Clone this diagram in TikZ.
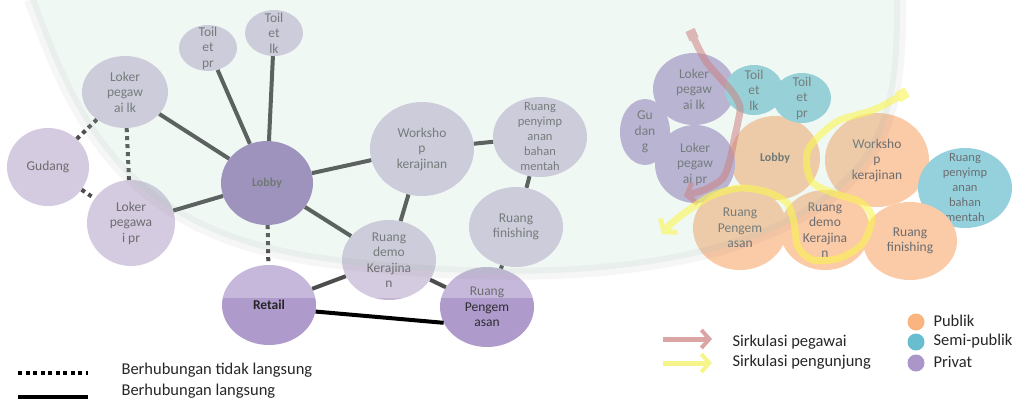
\documentclass[tikz,border=0pt]{standalone}
\usepackage{fontspec}
\setmainfont{Carlito}
\usetikzlibrary{shapes.geometric,arrows.meta}

\definecolor{priv}{RGB}{196,181,211}
\definecolor{privlobby}{RGB}{114,84,161}
\definecolor{privmid}{RGB}{174,154,203}
\definecolor{privR}{RGB}{160,140,198}
\definecolor{publik}{RGB}{250,180,128}
\definecolor{semipublik}{RGB}{104,190,206}
\definecolor{txt}{RGB}{45,45,50}
\definecolor{mint}{RGB}{165,212,190}
\definecolor{pegawai}{RGB}{205,130,130}
\definecolor{pengunjung}{RGB}{250,245,80}
\definecolor{keypeg}{RGB}{220,165,165}
\definecolor{keypeng}{RGB}{245,245,140}
\definecolor{keypriv}{RGB}{170,150,200}

\tikzset{
  room/.style={ellipse,inner sep=0pt},
  tag/.style={align=center,text=txt,font=\fontsize{13.5}{15.5}\selectfont},
  tagb/.style={align=center,text=black!85,font=\fontsize{12}{14}\selectfont\bfseries},
  link/.style={line width=4pt},
  hint/.style={line width=4pt,dash pattern=on 4pt off 4pt},
  flow/.style={line width=7pt,line join=round},
  key/.style={anchor=west,text=black!85,font=\fontsize{16.5}{19}\selectfont},
  dot/.style={circle,inner sep=0pt,minimum size=17pt}
}

\begin{document}
\begin{tikzpicture}[x=1pt,y=-1pt]
\useasboundingbox (0,0) rectangle (1024,405);

% left bubble diagram
\node[room,fill=priv,minimum width=58pt,minimum height=46pt,label={[tag]center:{Toil\\et\\pr}}] (toiletpr) at (208,48) {};
\node[room,fill=priv,minimum width=58pt,minimum height=46pt,label={[tag]center:{Toil\\et\\lk}}] (toiletlk) at (274,33) {};
\node[room,fill=priv,minimum width=86pt,minimum height=72pt,label={[tag]center:{Loker\\pegaw\\ai lk}}] (lokerlk) at (125,92) {};
\node[room,fill=priv,minimum width=82pt,minimum height=78pt,label={[tag]center:{Gudang}}] (gudang) at (48,167) {};
\node[room,fill=priv,minimum width=88pt,minimum height=86pt,label={[tag]center:{Loker\\pegawa\\i pr}}] (lokerpr) at (131,223) {};
\node[room,fill=privlobby,minimum width=92pt,minimum height=84pt,label={[tagb]center:{Lobby}}] (lobby) at (267,183) {};
\node[room,fill=privmid,minimum width=94pt,minimum height=80pt,label={[tagb,font=\fontsize{13.5}{15}\selectfont\bfseries]center:{Retail}}] (retail) at (269,305) {};
\node[room,fill=priv,minimum width=104pt,minimum height=94pt,label={[tag]center:{Worksho\\p\\kerajinan}}] (workshop) at (422,149) {};
\node[room,fill=priv,minimum width=94pt,minimum height=80pt,label={[tag,font=\fontsize{12.5}{15}\selectfont]center:{Ruang\\penyimp\\anan\\bahan\\mentah}}] (simpan) at (540,137) {};
\node[room,fill=priv,minimum width=94pt,minimum height=80pt,label={[tag]center:{Ruang\\finishing}}] (finishing) at (516,227) {};
\node[room,fill=priv,minimum width=94pt,minimum height=80pt,label={[tag]center:{Ruang\\demo\\Kerajina\\n}}] (demo) at (389,260) {};
\node[room,fill=privmid,minimum width=94pt,minimum height=80pt,label={[tag]center:{Ruang\\Pengem\\asan}}] (kemas) at (487,307) {};

\draw[link] (lokerlk) -- (lobby);
\draw[link] (toiletpr) -- (lobby);
\draw[link] (toiletlk) -- (lobby);
\draw[link] (lokerpr) -- (lobby);
\draw[link] (lobby) -- (workshop);
\draw[link] (lobby) -- (demo);
\draw[link] (workshop) -- (simpan);
\draw[link] (workshop) -- (demo);
\draw[link] (simpan) -- (finishing);
\draw[link] (finishing) -- (kemas);
\draw[link] (demo) -- (kemas);
\draw[link] (demo) -- (retail);
\draw[link] (retail.-8) -- (kemas.200);
\draw[hint] (gudang) -- (lokerlk);
\draw[hint] (gudang) -- (lokerpr);
\draw[hint] (lokerlk) -- (lokerpr);
\draw[hint] (lobby) -- (retail);

% right zoning diagram
\node[room,fill=privR,minimum width=50pt,minimum height=66pt,label={[tag]center:{Gu\\dan\\g}}] (gudangR) at (645,132) {};
\node[room,fill=publik,minimum width=90pt,minimum height=84pt,label={[tagb]center:{Lobby}}] (lobbyR) at (775,158) {};
\node[room,fill=privR,minimum width=82pt,minimum height=72pt,label={[tag]center:{Loker\\pegaw\\ai lk}}] (lokerlkR) at (694,89) {};
\node[room,fill=privR,minimum width=80pt,minimum height=78pt,label={[tag]center:{Loker\\pegaw\\ai pr}}] (lokerprR) at (695,164) {};
\node[room,fill=semipublik,minimum width=58pt,minimum height=50pt,label={[tag]center:{Toil\\et\\lk}}] (toiletlkR) at (754,90) {};
\node[room,fill=semipublik,minimum width=58pt,minimum height=50pt,label={[tag]center:{Toil\\et\\pr}}] (toiletprR) at (802,98) {};
\node[room,fill=publik,minimum width=104pt,minimum height=94pt,label={[tag]center:{Worksho\\p\\kerajinan}}] (workshopR) at (877,160) {};
\node[room,fill=semipublik,minimum width=94pt,minimum height=80pt,label={[tag,font=\fontsize{12.5}{15}\selectfont]center:{Ruang\\penyimp\\anan\\bahan\\mentah}}] (simpanR) at (965,188) {};
\node[room,fill=publik,minimum width=94pt,minimum height=84pt,label={[tag]center:{Ruang\\Pengem\\asan}}] (kemasR) at (740,228) {};
\node[room,fill=publik,minimum width=90pt,minimum height=80pt,label={[tag]center:{Ruang\\demo\\Kerajina\\n}}] (demoR) at (825,230) {};
\node[room,fill=publik,minimum width=94pt,minimum height=78pt,label={[tag]center:{Ruang\\finishing}}] (finishingR) at (910,241) {};

% faded seal behind the sheet
\fill[white,opacity=0.3] (0,0) rectangle (1024,298);
\fill[mint,opacity=0.16] (30,0) .. controls (75,120) and (120,235) .. (330,262)
  .. controls (560,290) and (760,270) .. (850,180) .. controls (900,130) and (900,60) .. (900,0) -- cycle;
\draw[gray,opacity=0.07,line width=12pt] (30,0) .. controls (75,120) and (120,235) .. (330,262)
  .. controls (560,290) and (760,270) .. (850,180) .. controls (900,130) and (900,60) .. (900,0);

% circulation
\begin{scope}[transparency group,opacity=0.55]
\draw[flow,pegawai,{Square[length=10pt,width=10pt]}-{Straight Barb[length=8pt,width=22pt,line width=5pt]}]
  plot[smooth] coordinates {(690,30) (698,47) (707,63) (720,78) (733,93) (740,107) (738,122) (734,140) (730,160) (723,178) (706,189) (684,196)};
\end{scope}
\begin{scope}[transparency group,opacity=0.6]
\draw[flow,pengunjung,{Square[length=11pt,width=11pt]}-{Straight Barb[length=8pt,width=22pt,line width=5pt]}]
  plot[smooth] coordinates {(907,92) (873,110) (840,120) (820,135) (808,150) (807,167) (813,183) (833,193) (860,202) (872,217) (863,243) (840,258) (813,260) (798,247) (794,223) (787,203) (767,192) (740,188) (713,195) (693,207) (673,222) (662,234)};
\end{scope}

% legends
\coordinate (h1) at (18,373);
\coordinate (h2) at (88,373);
\coordinate (l1) at (18,397);
\coordinate (l2) at (88,397);
\draw[line width=3.5pt,dash pattern=on 4pt off 3.5pt] (h1) -- (h2);
\draw[line width=4.5pt] (l1) -- (l2);
\node[key] (khint) at (118,370) {Berhubungan tidak langsung};
\node[key] (klink) at (118,391) {Berhubungan langsung};

\coordinate (p1) at (663,339);
\coordinate (p2) at (712,339);
\coordinate (q1) at (663,363);
\coordinate (q2) at (712,363);
\draw[keypeg,line width=5pt,-{Straight Barb[length=8pt,width=18pt,line width=4pt]}] (p1) -- (p2);
\draw[keypeng,line width=5pt,-{Straight Barb[length=8pt,width=18pt,line width=4pt]}] (q1) -- (q2);
\node[key] (kpeg) at (729,342) {Sirkulasi pegawai};
\node[key] (kpeng) at (729,362) {Sirkulasi pengunjung};

\node[dot,fill=publik] (dpub) at (916,322) {};
\node[dot,fill=semipublik] (dsemi) at (916,342) {};
\node[dot,fill=keypriv] (dpriv) at (916,363) {};
\node[key] (kpub) at (930,321) {Publik};
\node[key] (ksemi) at (930,341) {Semi-publik};
\node[key] (kpriv) at (930,362) {Privat};
\end{tikzpicture}
\end{document}
